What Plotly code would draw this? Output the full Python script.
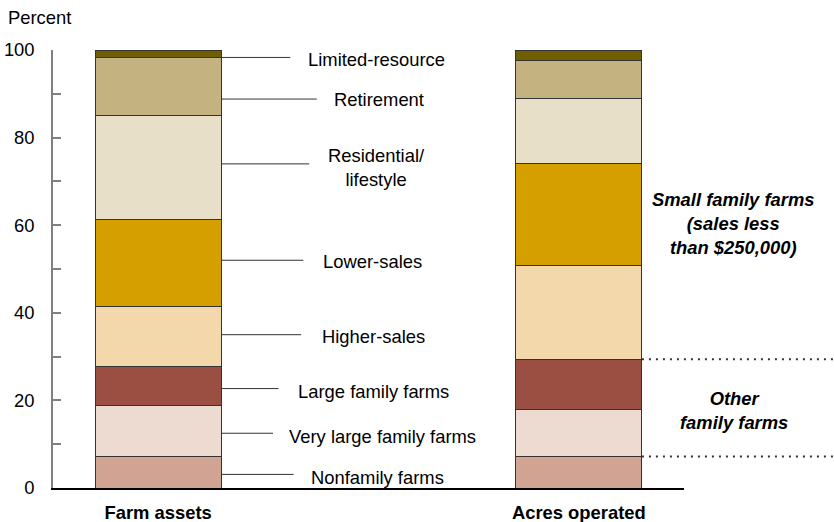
import plotly.graph_objects as go
import numpy as np

categories = ["Farm assets", "Acres operated"]
segments = ["Nonfamily farms", "Very large family farms", "Large family farms",
            "Higher-sales", "Lower-sales", "Residential/<br>lifestyle",
            "Retirement", "Limited-resource"]
farm_assets = [7.3, 11.5, 9.0, 13.6, 19.8, 23.9, 13.1, 1.8]
acres_operated = [7.2, 10.7, 11.5, 21.4, 23.2, 15.0, 8.6, 2.4]
colors = ["#D0A392", "#EDDBD2", "#9A4F42", "#F3D8AB", "#D59F00", "#E8DFC8", "#C4B280", "#705F00"]

# label layout (data coords)
leader_y = [3.1, 12.5, 22.7, 35.0, 52.0, 74.0, 88.8, 98.3]
leader_end = [0.322, 0.273, 0.286, 0.340, 0.345, 0.359, 0.377, 0.314]
label_y = [2.4, 11.8, 22.1, 34.7, 51.8, 73.1, 88.8, 97.9]
label_x = [0.521, 0.534, 0.513, 0.511, 0.509, 0.520, 0.525, 0.519]

FONT = "Liberation Sans, Arial, sans-serif"
FS = 18.4
xpos = [0, 1]
bar_w = 0.3
x_range = [-0.25, 1.25]

fig = go.Figure()
for i, name in enumerate(segments):
    fig.add_trace(go.Bar(
        x=xpos, y=[farm_assets[i], acres_operated[i]], width=bar_w,
        name=name, marker=dict(color=colors[i], line=dict(color="#333333", width=1)),
        hoverinfo="skip", showlegend=False))

def to_paper_x(v):
    return (v - x_range[0]) / (x_range[1] - x_range[0])

shapes = []
for ly, le in zip(leader_y, leader_end):
    shapes.append(dict(type="line", xref="x", yref="y", x0=bar_w / 2, x1=le,
                       y0=ly, y1=ly, line=dict(color="#333333", width=1)))

cum_acres = np.cumsum(acres_operated)
for yv in [cum_acres[0], cum_acres[2]]:
    shapes.append(dict(type="line", xref="paper", yref="paper",
                       x0=to_paper_x(1 + bar_w / 2), x1=1.24,
                       y0=yv / 100, y1=yv / 100,
                       line=dict(color="#333333", width=2, dash="2px,5px")))

annotations = []
for name, lx, ly in zip(segments, label_x, label_y):
    annotations.append(dict(x=lx, y=ly, xref="x", yref="y", text=name, showarrow=False,
                            xanchor="center",
                            font=dict(size=FS, color="black", family=FONT)))
annotations.append(dict(x=1.079, y=0.603, xref="paper", yref="paper", xanchor="center",
                        yanchor="middle",
                        text="<b><i>Small family farms<br>(sales less<br>than $250,000)</i></b>",
                        showarrow=False, font=dict(size=FS, color="black", family=FONT)))
annotations.append(dict(x=1.079, y=0.176, xref="paper", yref="paper", xanchor="center",
                        yanchor="middle",
                        text="<b><i>Other<br>family farms</i></b>",
                        showarrow=False, font=dict(size=FS, color="black", family=FONT)))
annotations.append(dict(x=-0.0745, y=1.075, xref="paper", yref="paper", text="Percent",
                        showarrow=False, xanchor="left", yanchor="middle",
                        font=dict(size=FS, color="black", family=FONT)))

fig.update_layout(
    width=834, height=522,
    margin=dict(l=53, r=150, t=50, b=34),
    barmode="stack",
    plot_bgcolor="white", paper_bgcolor="white",
    font=dict(family=FONT, size=FS, color="black"),
    shapes=shapes, annotations=annotations,
    xaxis=dict(range=x_range, tickvals=xpos, automargin=False,
               ticktext=["<b>" + c + "</b>" for c in categories],
               showline=True, linecolor="black", linewidth=2, ticks="",
               showgrid=False, zeroline=False, ticklabelstandoff=7,
               tickfont=dict(size=FS, color="black", family=FONT)),
    yaxis=dict(range=[0, 100], dtick=20, showline=True, linecolor="#808080", linewidth=1.5,
               automargin=False,
               ticks="inside", ticklen=8, tickcolor="#808080", tickwidth=1.5,
               minor=dict(dtick=10, ticks="inside", ticklen=8, tickcolor="#808080", tickwidth=1.5),
               showgrid=False, zeroline=False, ticklabelstandoff=13,
               tickfont=dict(size=FS, color="black", family=FONT)),
)
fig.write_html("out.html", config={"displayModeBar": False},
               post_script="document.body.style.margin='0';document.body.style.overflow='hidden';")
